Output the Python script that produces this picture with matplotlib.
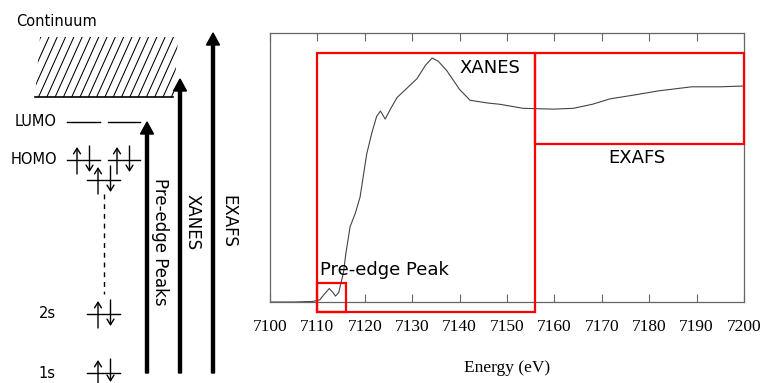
import matplotlib.pyplot as plt
from matplotlib.patches import Rectangle, Polygon
import numpy as np

energy = [7100, 7105, 7109, 7110.5, 7111.5, 7112.5, 7113.3, 7113.8, 7114.5,
          7115.5, 7116.0, 7116.9, 7118, 7119, 7120.4, 7121.5, 7122.5, 7123.3,
          7124.3, 7125.5, 7126.8, 7128.9, 7131, 7132.8, 7134.2, 7135.5,
          7137.3, 7140, 7142.2, 7145.8, 7148.5, 7153.4, 7159.8, 7164, 7168,
          7171.7, 7177, 7182, 7189, 7195, 7200]
absorb = [0.0, 0.0, 0.002, 0.008, 0.03, 0.05, 0.035, 0.022, 0.035,
          0.11, 0.18, 0.28, 0.33, 0.39, 0.55, 0.63, 0.69, 0.71,
          0.68, 0.72, 0.76, 0.795, 0.83, 0.88, 0.907, 0.895,
          0.86, 0.79, 0.75, 0.74, 0.735, 0.72, 0.717, 0.72, 0.735,
          0.755, 0.77, 0.785, 0.80, 0.80, 0.803]
xticks = list(range(7100, 7201, 10))

# regions (energy start, energy end, y bottom, y top)
regions = {
    "XANES": (7110, 7156, -0.037, 0.926),
    "EXAFS": (7156, 7200, 0.587, 0.926),
    "pre": (7110, 7116, -0.037, 0.071),
}

# energy level diagram, pixel coordinates
levels = [("LUMO", 122), ("HOMO", 160), ("2s", 314), ("1s", 373)]
transitions = [("Pre-edge Peaks", 147, 122), ("XANES", 180, 79), ("EXAFS", 213, 33)]

# axis numbers in a Times-like face, everything else passes its family explicitly
plt.rcParams["font.family"] = "serif"
plt.rcParams["font.serif"] = ["Liberation Serif"]
SANS = "DejaVu Sans"

W, H = 763, 383
fig = plt.figure(figsize=(W / 100, H / 100), dpi=100)

# --- left: diagram drawn in pixel units
dg = fig.add_axes([0, 0, 1, 1])
dg.set_xlim(0, W)
dg.set_ylim(H, 0)
dg.axis("off")

lab_kw = dict(fontsize=10.5, family=SANS, va="center")
dg.text(16, 22, "Continuum", ha="left", **lab_kw)

# hatched continuum
clip = Polygon([(35, 97), (40, 37), (178, 37), (174, 97)], closed=True,
               transform=dg.transData, visible=False)
dg.add_patch(clip)
for x0 in np.arange(-20, 180, 8.3):
    ln, = dg.plot([x0, x0 + 0.45 * 62], [98, 36], color="black", lw=0.75)
    ln.set_clip_path(clip)
dg.plot([35, 173], [97, 97], color="black", lw=1.2)

spin = dict(arrowstyle="->,head_length=0.4,head_width=0.25",
            lw=1, color="black", shrinkA=0, shrinkB=0)

def orbital(x1, x2, y, ups, bottom=None):
    dg.plot([x1, x2], [y, y], color="black", lw=1)
    lo = y + 12 if bottom is None else bottom
    for xa in ups:
        dg.annotate("", xy=(xa, y - 13), xytext=(xa, lo + 2), arrowprops=spin)
        dg.annotate("", xy=(xa + 12.5, lo), xytext=(xa + 12.5, y - 14), arrowprops=spin)

# LUMO (empty)
dg.plot([67, 100], [122, 122], color="black", lw=1)
dg.plot([108, 140], [122, 122], color="black", lw=1)
# HOMO and below
orbital(67, 100, 160, [77])
orbital(108, 140, 160, [117])
orbital(87, 120, 180, [98])
orbital(87, 120, 314, [98])
orbital(87, 120, 373, [98], bottom=382)
dg.plot([104, 104], [194, 294], color="black", lw=1, ls=(0, (3.5, 3.5)))

for name, y in levels:
    if name in ("LUMO", "HOMO"):
        dg.text(57, y, name, ha="right", **lab_kw)
    else:
        dg.text(47, y, name, ha="center", **lab_kw)

for name, x, ytip in transitions:
    dg.arrow(x, 373, 0, ytip - 373, width=3, head_width=13, head_length=12,
             length_includes_head=True, color="black")
tx = {"Pre-edge Peaks": (160, 242), "XANES": (193, 222), "EXAFS": (228, 221)}
for name, (x, y) in tx.items():
    dg.text(x, y, name, rotation=-90, ha="center", va="center",
            fontsize=12, family=SANS)

# --- right: spectrum
ax = fig.add_axes([270 / W, (H - 302) / H, 474 / W, 269 / H])
ax.plot(energy, absorb, color="#444444", lw=0.8)
ax.set_xlim(7100, 7200)
ax.set_ylim(0, 1)
ax.set_yticks([])
ax.set_xticks(xticks)
ax.tick_params(axis="x", direction="in", top=True, length=6, width=0.8,
               color="#666666", pad=12, labelsize=12.5)
for sp in ax.spines.values():
    sp.set_color("#666666")
    sp.set_linewidth(0.9)
ax.set_xlabel("Energy (eV)", fontsize=12.5, labelpad=18)

for key, (e0, e1, y0, y1) in regions.items():
    ax.add_patch(Rectangle((e0, y0), e1 - e0, y1 - y0, fill=False,
                           edgecolor="red", lw=1.6, clip_on=False, zorder=3))
ax.text(7146.4, 0.87, "XANES", ha="center", va="center", fontsize=13, family=SANS)
ax.text(7177.4, 0.535, "EXAFS", ha="center", va="center", fontsize=13, family=SANS)
ax.text(7110.5, 0.119, "Pre-edge Peak", ha="left", va="center", fontsize=13, family=SANS)

fig.savefig("out.png", dpi=100)
